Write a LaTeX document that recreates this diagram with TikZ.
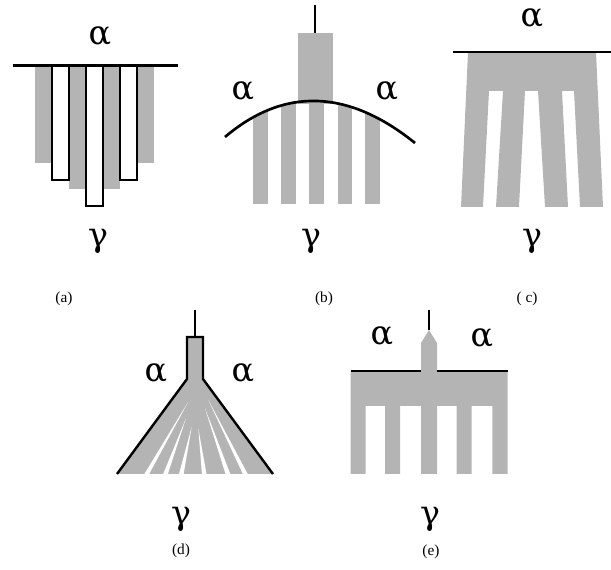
\documentclass[tikz,border=0pt]{standalone}
\usepackage{fontspec}
\setmainfont{Liberation Serif}
\newfontfamily\grkfont{DejaVu Serif}
\definecolor{barg}{RGB}{180,180,180}
\tikzset{
  greek/.style={anchor=base,inner sep=0pt,font=\grkfont\fontsize{25}{25}\selectfont},
  caption/.style={inner sep=0pt,font=\fontsize{11.5}{12}\selectfont},
  thick line/.style={line width=2pt,black},
  wbar/.style={fill=white,draw=black,line width=1.1pt},
}
\begin{document}
\begin{tikzpicture}[x=0.75pt,y=-0.75pt]
\useasboundingbox (0,0) rectangle (611,570);
% ---------------- (a)
\foreach \xa/\xb/\yb in {35/52/163, 69/86/189, 103/120/189, 137/154/163}
  \fill[barg] (\xa,65.5) rectangle (\xb,\yb);
\foreach \xa/\xb/\yb in {52/69/180, 86/103/206, 120/137/180}
  \draw[wbar] (\xa,65.5) rectangle (\xb,\yb);
\coordinate (aL) at (12.7,65.5);
\coordinate (aR) at (178,65.5);
\draw[thick line] (aL) -- (aR);
\node[greek] (aalpha) at (100,45) {α};
\node[greek] (agamma) at (98,247) {γ};
\node[caption] (acap) at (64,299) {(a)};
% ---------------- (b)
\fill[barg] (297.7,33) rectangle (333.3,104);
\begin{scope}
  \clip (225,137) .. controls (284,87) and (348,89) .. (415,143) -- (415,220) -- (225,220) -- cycle;
  \foreach \xa/\xb in {252.7/267.7, 281/296, 309/324, 337.7/351.7, 365/380}
    \fill[barg] (\xa,80) rectangle (\xb,204);
\end{scope}
\coordinate (bS1) at (315,5);
\coordinate (bS2) at (315,33);
\draw[line width=1.6pt] (bS1) -- (bS2);
\coordinate (bArcL) at (225,137);
\coordinate (bArcR) at (415,143);
\draw[thick line] (bArcL) .. controls (284,87) and (348,89) .. (bArcR);
\node[greek] (balphaL) at (243,100) {α};
\node[greek] (balphaR) at (387,100) {α};
\node[greek] (bgamma) at (311,247) {γ};
\node[caption] (bcap) at (324,299) {(b)};
% ---------------- (c)
\fill[barg] (468,52) -- (596,52) -- (603,207) -- (580,207) -- (574,91) -- (562,91)
  -- (568,207) -- (545,207) -- (538,91) -- (525,91) -- (519,207) -- (496,207)
  -- (503,91) -- (489,91) -- (483,207) -- (461,207) -- cycle;
\coordinate (cL) at (453,52);
\coordinate (cR) at (611,52);
\draw[thick line] (cL) -- (cR);
\node[greek] (calpha) at (532,27) {α};
\node[greek] (cgamma) at (532,247) {γ};
\node[caption] (ccap) at (527,299) {( c)};
% ---------------- (d)
\begin{scope}
  \clip (187,337) -- (203,337) -- (203,379) -- (273,474) -- (117,474) -- (187,379) -- cycle;
  \fill[barg] (187,337) -- (203,337) -- (203,379) -- (273,474) -- (117,474) -- (187,379) -- cycle;
  \foreach \xt/\yt/\xb in {188.3/401.7/143.3, 186/418.3/163.3, 191.7/426.7/180,
                           198.3/428.3/205, 205/408.3/230, 208.3/400/248.3}
    \fill[white] (\xt,\yt) -- (\xb+2.6,480) -- (\xb-2.6,480) -- cycle;
\end{scope}
\coordinate (dS1) at (195,310);
\coordinate (dS2) at (195,337);
\draw[line width=1.4pt] (dS1) -- (dS2);
\coordinate (dBL) at (117,474);
\coordinate (dBR) at (273,474);
\draw[line width=1.8pt,line join=miter] (dBL) -- (187,379) -- (187,337) -- (203,337) -- (203,379) -- (dBR);
\node[greek] (dalphaL) at (156,382) {α};
\node[greek] (dalphaR) at (243,382) {α};
\node[greek] (dgamma) at (181,524) {γ};
\node[caption] (dcap) at (181,551) {(d)};
% ---------------- (e)
\fill[barg] (429,330) -- (437,343) -- (437,371) -- (507.7,371) -- (507.7,474) -- (492.3,474)
  -- (492.3,406) -- (471.7,406) -- (471.7,474) -- (456.7,474) -- (456.7,406)
  -- (437,406) -- (437,474) -- (421,474) -- (421,406) -- (400,406) -- (400,474)
  -- (385,474) -- (385,406) -- (365.7,406) -- (365.7,474) -- (350.7,474)
  -- (350.7,371) -- (421,371) -- (421,343) -- cycle;
\coordinate (eS1) at (429,310);
\coordinate (eS2) at (429,330);
\draw[line width=1.6pt] (eS1) -- (eS2);
\coordinate (eL1) at (350.7,371);
\coordinate (eL2) at (421,371);
\coordinate (eR1) at (437,371);
\coordinate (eR2) at (507.7,371);
\draw[thick line] (eL1) -- (eL2);
\draw[thick line] (eR1) -- (eR2);
\node[greek] (ealphaL) at (382,345) {α};
\node[greek] (ealphaR) at (482,347) {α};
\node[greek] (egamma) at (430,524) {γ};
\node[caption] (ecap) at (431,552) {(e)};
\end{tikzpicture}
\end{document}
